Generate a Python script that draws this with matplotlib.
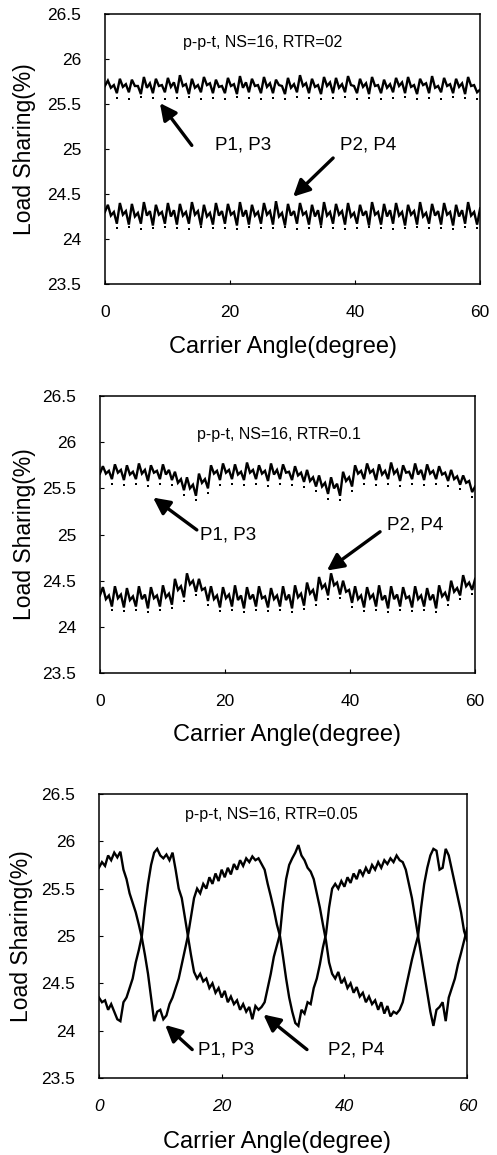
import numpy as np
import matplotlib
matplotlib.use("Agg")
import matplotlib.pyplot as plt

plt.rcParams['font.family'] = ['Liberation Sans', 'DejaVu Sans']

# ---------------- data ----------------
# Panel 1: RTR = 0.2  (load sharing, %, sampled evenly over 0-60 deg)
rtr02_p13 = [25.70,
    25.76, 25.68, 25.71, 25.62,  25.78, 25.69, 25.72, 25.63,  25.77, 25.70, 25.70, 25.61,
    25.80, 25.68, 25.73, 25.62,  25.78, 25.70, 25.71, 25.63,  25.79, 25.69, 25.74, 25.62,
    25.82, 25.70, 25.72, 25.61,  25.78, 25.68, 25.71, 25.63,  25.80, 25.71, 25.73, 25.62,
    25.77, 25.69, 25.70, 25.62,  25.79, 25.70, 25.72, 25.61,  25.81, 25.68, 25.74, 25.63,
    25.78, 25.70, 25.71, 25.62,  25.80, 25.69, 25.73, 25.62,  25.77, 25.71, 25.70, 25.61,
    25.79, 25.68, 25.72, 25.63,  25.82, 25.70, 25.73, 25.62,  25.78, 25.69, 25.71, 25.61,
    25.80, 25.70, 25.74, 25.62,  25.79, 25.68, 25.72, 25.63,  25.81, 25.71, 25.70, 25.62,
    25.78, 25.69, 25.73, 25.61,  25.80, 25.70, 25.71, 25.62,  25.77, 25.68, 25.72, 25.63,
    25.79, 25.70, 25.74, 25.62,  25.80, 25.69, 25.71, 25.61,  25.78, 25.71, 25.73, 25.62,
    25.81, 25.68, 25.70, 25.63,  25.79, 25.70, 25.72, 25.62,  25.78, 25.69, 25.73, 25.61,
    25.80, 25.70, 25.71, 25.63,
    25.66]
rtr02_p24 = [24.30,
    24.38, 24.26, 24.30, 24.17,  24.40, 24.27, 24.31, 24.16,  24.39, 24.25, 24.29, 24.17,
    24.41, 24.26, 24.31, 24.15,  24.38, 24.27, 24.30, 24.17,  24.40, 24.25, 24.32, 24.16,
    24.39, 24.26, 24.30, 24.17,  24.41, 24.27, 24.31, 24.15,  24.38, 24.25, 24.29, 24.16,
    24.40, 24.26, 24.31, 24.17,  24.39, 24.27, 24.30, 24.15,  24.41, 24.25, 24.32, 24.16,
    24.38, 24.26, 24.30, 24.17,  24.40, 24.27, 24.31, 24.16,  24.42, 24.25, 24.29, 24.15,
    24.39, 24.26, 24.31, 24.17,  24.40, 24.27, 24.30, 24.16,  24.38, 24.25, 24.32, 24.15,
    24.41, 24.26, 24.30, 24.17,  24.39, 24.27, 24.31, 24.16,  24.40, 24.25, 24.29, 24.17,
    24.38, 24.26, 24.31, 24.15,  24.41, 24.27, 24.30, 24.16,  24.39, 24.25, 24.32, 24.17,
    24.40, 24.26, 24.30, 24.15,  24.38, 24.27, 24.31, 24.16,  24.41, 24.25, 24.29, 24.17,
    24.39, 24.26, 24.31, 24.16,  24.40, 24.27, 24.30, 24.15,  24.38, 24.25, 24.32, 24.17,
    24.41, 24.26, 24.30, 24.16,
    24.34]
# dotted companion curve minima (one per mesh cycle)
rtr02_p13_dips = [25.57, 25.56, 25.58, 25.57, 25.55, 25.57, 25.58, 25.56, 25.57, 25.56,
                  25.58, 25.57, 25.55, 25.57, 25.56, 25.58, 25.57, 25.56, 25.57, 25.58,
                  25.56, 25.57, 25.55, 25.57, 25.58, 25.56, 25.57, 25.56, 25.58, 25.57, 25.56]
rtr02_p24_dips = [24.12, 24.13, 24.11, 24.12, 24.13, 24.12, 24.11, 24.13, 24.12, 24.12,
                  24.11, 24.13, 24.12, 24.12, 24.13, 24.11, 24.12, 24.13, 24.12, 24.11,
                  24.12, 24.13, 24.12, 24.11, 24.12, 24.13, 24.12, 24.12, 24.11, 24.13, 24.12]

# Panel 2: RTR = 0.1
rtr01_p13 = [25.66,
    25.74, 25.66, 25.69, 25.60,  25.76, 25.67, 25.70, 25.59,  25.75, 25.65, 25.68, 25.60,
    25.77, 25.66, 25.70, 25.58,  25.75, 25.67, 25.69, 25.60,  25.76, 25.65, 25.70, 25.59,
    25.68, 25.56, 25.60, 25.48,  25.62, 25.50, 25.54, 25.42,  25.66, 25.56, 25.60, 25.50,
    25.75, 25.66, 25.69, 25.59,  25.77, 25.67, 25.70, 25.60,  25.76, 25.65, 25.68, 25.59,
    25.78, 25.67, 25.70, 25.60,  25.75, 25.66, 25.69, 25.58,  25.77, 25.65, 25.70, 25.60,
    25.76, 25.67, 25.68, 25.59,  25.74, 25.64, 25.67, 25.57,  25.70, 25.58, 25.62, 25.52,
    25.64, 25.52, 25.56, 25.44,  25.62, 25.50, 25.55, 25.42,  25.68, 25.58, 25.62, 25.52,
    25.75, 25.66, 25.69, 25.60,  25.77, 25.67, 25.70, 25.59,  25.76, 25.65, 25.69, 25.60,
    25.78, 25.66, 25.70, 25.58,  25.75, 25.67, 25.68, 25.60,  25.77, 25.65, 25.70, 25.59,
    25.76, 25.66, 25.69, 25.60,  25.74, 25.65, 25.67, 25.58,  25.70, 25.60, 25.63, 25.54,
    25.64, 25.56, 25.58, 25.46,
    25.52]
rtr01_p24 = [24.34,
    24.43, 24.30, 24.34, 24.22,  24.44, 24.31, 24.35, 24.21,  24.42, 24.29, 24.33, 24.22,
    24.44, 24.30, 24.35, 24.20,  24.43, 24.31, 24.34, 24.22,  24.45, 24.32, 24.36, 24.24,
    24.52, 24.40, 24.44, 24.32,  24.58, 24.46, 24.50, 24.38,  24.52, 24.40, 24.42, 24.28,
    24.44, 24.30, 24.34, 24.21,  24.43, 24.31, 24.35, 24.22,  24.45, 24.29, 24.34, 24.20,
    24.43, 24.30, 24.35, 24.22,  24.44, 24.31, 24.33, 24.21,  24.42, 24.30, 24.34, 24.22,
    24.44, 24.29, 24.35, 24.20,  24.45, 24.32, 24.36, 24.23,  24.48, 24.36, 24.40, 24.28,
    24.54, 24.42, 24.46, 24.34,  24.58, 24.45, 24.48, 24.35,  24.50, 24.38, 24.40, 24.26,
    24.44, 24.30, 24.34, 24.21,  24.43, 24.31, 24.35, 24.22,  24.45, 24.29, 24.34, 24.20,
    24.44, 24.30, 24.35, 24.22,  24.43, 24.31, 24.33, 24.21,  24.44, 24.30, 24.34, 24.22,
    24.42, 24.29, 24.35, 24.20,  24.45, 24.33, 24.37, 24.28,  24.50, 24.38, 24.42, 24.34,
    24.56, 24.44, 24.48, 24.40,
    24.52]
rtr01_p13_dips = [25.55, 25.54, 25.55, 25.53, 25.55, 25.54, 25.43, 25.37, 25.45, 25.54,
                  25.55, 25.54, 25.55, 25.53, 25.55, 25.54, 25.52, 25.47, 25.39, 25.37,
                  25.47, 25.55, 25.54, 25.55, 25.53, 25.55, 25.54, 25.55, 25.53, 25.49, 25.41]
rtr01_p24_dips = [24.18, 24.17, 24.18, 24.16, 24.18, 24.20, 24.28, 24.34, 24.24, 24.17,
                  24.18, 24.16, 24.18, 24.17, 24.18, 24.16, 24.19, 24.24, 24.30, 24.31,
                  24.22, 24.17, 24.18, 24.16, 24.18, 24.17, 24.18, 24.16, 24.24, 24.30, 24.36]

# Panel 3: RTR = 0.05, sampled every 0.5 deg
rtr005_p13 = [
    25.72, 25.78, 25.74, 25.85, 25.80, 25.88, 25.83, 25.89, 25.70, 25.60,
    25.45, 25.35, 25.25, 25.12, 24.98, 24.80, 24.60, 24.35, 24.10, 24.20,
    24.22, 24.12, 24.16, 24.28, 24.35, 24.45, 24.55, 24.70, 24.85, 25.00,
    25.20, 25.40, 25.50, 25.45, 25.55, 25.50, 25.62, 25.55, 25.66, 25.58,
    25.70, 25.62, 25.72, 25.65, 25.76, 25.70, 25.80, 25.74, 25.82, 25.78,
    25.84, 25.80, 25.82, 25.76, 25.70, 25.55, 25.42, 25.28, 25.12, 25.00,
    24.78, 24.55, 24.35, 24.20, 24.08, 24.05, 24.22, 24.18, 24.30, 24.28,
    24.45, 24.55, 24.70, 24.88, 25.02, 25.30, 25.50, 25.55, 25.50, 25.58,
    25.52, 25.62, 25.56, 25.66, 25.60, 25.70, 25.64, 25.72, 25.66, 25.75,
    25.70, 25.78, 25.72, 25.80, 25.76, 25.82, 25.78, 25.85, 25.80, 25.78,
    25.70, 25.55, 25.40, 25.20, 25.00, 24.80, 24.60, 24.40, 24.20, 24.05,
    24.22, 24.25, 24.30, 24.10, 24.35, 24.45, 24.55, 24.70, 24.82, 24.95,
    25.08]
rtr005_p24 = [
    24.35, 24.30, 24.32, 24.22, 24.28, 24.20, 24.12, 24.10, 24.30, 24.35,
    24.45, 24.55, 24.72, 24.85, 25.00, 25.30, 25.55, 25.75, 25.88, 25.92,
    25.85, 25.82, 25.86, 25.80, 25.88, 25.70, 25.50, 25.40, 25.20, 25.00,
    24.80, 24.62, 24.55, 24.60, 24.52, 24.55, 24.45, 24.50, 24.40, 24.45,
    24.35, 24.42, 24.30, 24.36, 24.28, 24.32, 24.22, 24.28, 24.20, 24.25,
    24.12, 24.26, 24.22, 24.25, 24.30, 24.45, 24.60, 24.78, 24.90, 25.02,
    25.35, 25.60, 25.75, 25.82, 25.88, 25.96, 25.85, 25.80, 25.72, 25.68,
    25.60, 25.45, 25.30, 25.12, 24.95, 24.72, 24.60, 24.55, 24.62, 24.50,
    24.55, 24.45, 24.50, 24.40, 24.46, 24.36, 24.40, 24.30, 24.36, 24.28,
    24.32, 24.22, 24.30, 24.18, 24.26, 24.15, 24.20, 24.18, 24.22, 24.30,
    24.45, 24.60, 24.75, 24.88, 25.00, 25.30, 25.55, 25.72, 25.85, 25.92,
    25.90, 25.70, 25.72, 25.92, 25.85, 25.70, 25.55, 25.40, 25.25, 25.05,
    24.95]

titles = ["p-p-t, NS=16, RTR=02", "p-p-t, NS=16, RTR=0.1", "p-p-t, NS=16, RTR=0.05"]
y_ticks = [23.5, 24, 24.5, 25, 25.5, 26, 26.5]
y_tick_labels = ["23.5", "24", "24.5", "25", "25.5", "26", "26.5"]
x_ticks = [0, 20, 40, 60]
x_tick_labels = ["0", "20", "40", "60"]

# ---------------- figure ----------------
fig = plt.figure(figsize=(4.97, 11.55), dpi=100)

# [left, bottom, width, height] for the three stacked panels
boxes = [
    [0.211, 0.7541, 0.755, 0.2338],
    [0.201, 0.4173, 0.755, 0.2398],
    [0.199, 0.0667, 0.741, 0.2459],
]

panels = [
    dict(p13=rtr02_p13, p24=rtr02_p24, d13=rtr02_p13_dips, d24=rtr02_p24_dips,
         title_xy=(0.42, 0.893), ylab_x=-0.213, xlab=(0.475, -0.233),
         ann=[("P1, P3", (8.8, 25.51), (13.9, 25.04), (17.6, 25.04)),
              ("P2, P4", (30.1, 24.47), (36.5, 24.90), (37.6, 25.04))],
         italic=False),
    dict(p13=rtr01_p13, p24=rtr01_p24, d13=rtr01_p13_dips, d24=rtr01_p24_dips,
         title_xy=(0.478, 0.86), ylab_x=-0.20, xlab=(0.498, -0.224),
         ann=[("P1, P3", (8.5, 25.40), (15.5, 25.05), (16.0, 24.99)),
              ("P2, P4", (36.3, 24.61), (44.8, 25.03), (45.9, 25.10))],
         italic=False),
    dict(p13=rtr005_p13, p24=rtr005_p24, d13=None, d24=None,
         title_xy=(0.467, 0.926), ylab_x=-0.21, xlab=(0.483, -0.225),
         ann=[("P1, P3", (10.8, 24.06), (15.2, 23.80), (16.2, 23.80)),
              ("P2, P4", (26.8, 24.17), (33.9, 23.80), (37.4, 23.80))],
         italic=True),
]

for box, title, pan in zip(boxes, titles, panels):
    ax = fig.add_axes(box)
    p13 = np.asarray(pan["p13"])
    p24 = np.asarray(pan["p24"])
    x13 = np.linspace(0, 60, len(p13))
    x24 = np.linspace(0, 60, len(p24))
    ax.plot(x13, p13, color="black", lw=1.7, solid_joinstyle="miter")
    ax.plot(x24, p24, color="black", lw=1.7, solid_joinstyle="miter")

    # dotted companion curves show up as small specks below each trough
    if pan["d13"] is not None:
        ax.plot(x13[4:-1:4], pan["d13"], ls="none", marker="s", ms=2.0,
                color="black", mew=0)
        ax.plot(x24[4:-1:4], pan["d24"], ls="none", marker="s", ms=2.0,
                color="black", mew=0)

    ax.set_xlim(0, 60)
    ax.set_ylim(23.5, 26.5)
    ax.set_yticks(y_ticks)
    ax.set_yticklabels(y_tick_labels)
    ax.set_xticks(x_ticks)
    ax.set_xticklabels(x_tick_labels, style="italic" if pan["italic"] else "normal")
    ax.tick_params(direction="in", length=3, width=0.8, labelsize=12.5,
                   top=False, right=False)
    ax.tick_params(axis="x", pad=15)
    ax.tick_params(axis="y", pad=17)
    for sp in ax.spines.values():
        sp.set_linewidth(1.1)

    ax.text(*pan["title_xy"], title, transform=ax.transAxes,
            ha="center", va="center", fontsize=11.5)

    ax.set_ylabel("Load Sharing(%)", fontsize=16.5, va="center")
    ax.yaxis.set_label_coords(pan["ylab_x"], 0.5)
    ax.set_xlabel("Carrier Angle(degree)", fontsize=17, va="center")
    ax.xaxis.set_label_coords(*pan["xlab"])

    for label, head, tail, txt in pan["ann"]:
        ax.annotate("", xy=head, xytext=tail,
                    arrowprops=dict(arrowstyle="-|>,head_length=1.0,head_width=0.5",
                                    lw=2.4, color="black", shrinkA=0, shrinkB=0))
        ax.text(txt[0], txt[1], label, ha="left", va="center", fontsize=13.5)

fig.savefig("out.png", dpi=100)
